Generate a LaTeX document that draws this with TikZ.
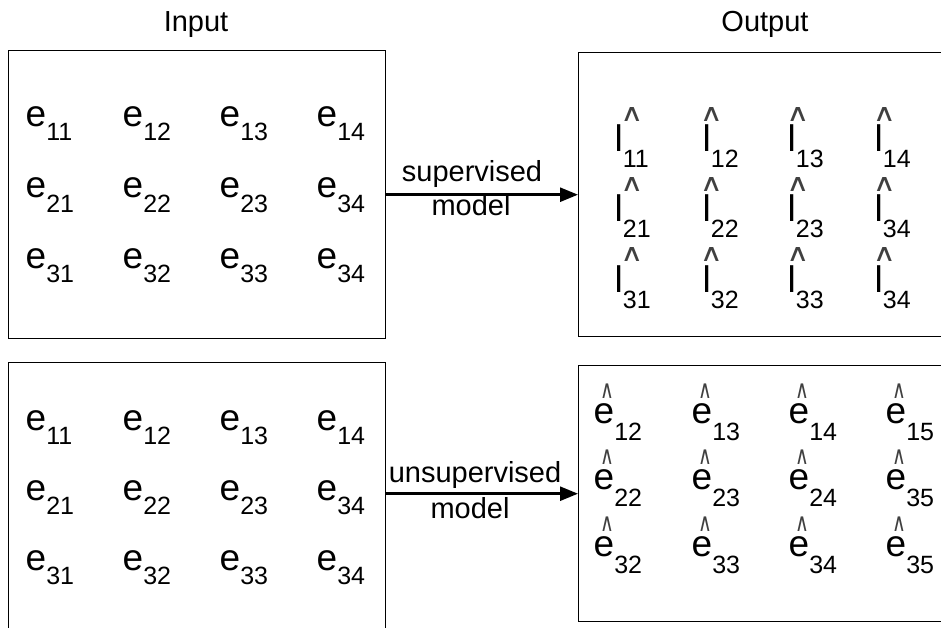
\documentclass[tikz,border=0pt]{standalone}
\usepackage{fontspec}
\setmainfont{Liberation Sans}
\newfontfamily\hatfont{DejaVu Sans}
\usetikzlibrary{arrows.meta}
\tikzset{
  box/.style={draw=black, line width=1.4pt, inner sep=0pt, anchor=north west},
  lbl/.style={font=\fontsize{29}{29}\selectfont, inner sep=0pt, anchor=base},
  cell/.style={inner sep=0pt, anchor=base west, font=\fontsize{37}{37}\selectfont},
  hatmark/.style={inner sep=0pt, text=black!75, font=\hatfont\fontsize{21}{21}\selectfont},
  flow/.style={line width=2.6pt, -{Triangle[length=18pt,width=14pt]}},
}
\newcommand{\sbx}[2]{\raisebox{-#1pt}{\fontsize{25}{25}\selectfont #2}}
\newcommand{\hatsym}{\scalebox{0.9}[1.2]{∧}}
\newcommand{\broadhat}{\scalebox{1.5}[1.15]{∧}}

\begin{document}
\begin{tikzpicture}[x=1pt,y=-1pt]
\useasboundingbox (0,0) rectangle (941,628);
\clip (0,0) rectangle (941,628);

% titles
\node[lbl] (tin) at (196,32) {Input};
\node[lbl] (tout) at (765,32) {Output};

% boxes
\node[box, minimum width=377pt, minimum height=288pt] (inA) at (8,50) {};
\node[box, minimum width=377pt, minimum height=288pt] (inB) at (8,362) {};
\node[box, minimum width=382pt, minimum height=284pt] (outA) at (578,52) {};
\node[box, minimum width=382pt, minimum height=256pt] (outB) at (578,365) {};

% arrows
\draw[flow] (inA.east) -- (outA.west);
\draw[flow] (inB.east |- outB.west) -- (outB.west);
\node[lbl] (sup) at (472,182) {supervised};
\node[lbl] (supm) at (471,216) {model};
\node[lbl] (uns) at (475,482) {unsupervised};
\node[lbl] (unsm) at (470,518) {model};

% input grid (top)
\node[cell] (a11) at (25.5,127) {e\sbx{14}{11}};
\node[cell] (a12) at (122.5,127) {e\sbx{14}{12}};
\node[cell] (a13) at (219.5,127) {e\sbx{14}{13}};
\node[cell] (a14) at (316.5,127) {e\sbx{14}{14}};
\node[cell] (a21) at (25.5,198) {e\sbx{14}{21}};
\node[cell] (a22) at (122.5,198) {e\sbx{14}{22}};
\node[cell] (a23) at (219.5,198) {e\sbx{14}{23}};
\node[cell] (a24) at (316.5,198) {e\sbx{14}{34}};
\node[cell] (a31) at (25.5,268) {e\sbx{14}{31}};
\node[cell] (a32) at (122.5,268) {e\sbx{14}{32}};
\node[cell] (a33) at (219.5,268) {e\sbx{14}{33}};
\node[cell] (a34) at (316.5,268) {e\sbx{14}{34}};

% input grid (bottom)
\node[cell] (b11) at (25.5,430) {e\sbx{14}{11}};
\node[cell] (b12) at (122.5,430) {e\sbx{14}{12}};
\node[cell] (b13) at (219.5,430) {e\sbx{14}{13}};
\node[cell] (b14) at (316.5,430) {e\sbx{14}{14}};
\node[cell] (b21) at (25.5,500) {e\sbx{14}{21}};
\node[cell] (b22) at (122.5,500) {e\sbx{14}{22}};
\node[cell] (b23) at (219.5,500) {e\sbx{14}{23}};
\node[cell] (b24) at (316.5,500) {e\sbx{14}{34}};
\node[cell] (b31) at (25.5,570) {e\sbx{14}{31}};
\node[cell] (b32) at (122.5,570) {e\sbx{14}{32}};
\node[cell] (b33) at (219.5,570) {e\sbx{14}{33}};
\node[cell] (b34) at (316.5,570) {e\sbx{14}{34}};

% output grid (top): l-hat
\node[cell] (c11) at (614.5,152) {l\sbx{16}{11}};
\node[cell] (c12) at (702.5,152) {l\sbx{16}{12}};
\node[cell] (c13) at (787.5,152) {l\sbx{16}{13}};
\node[cell] (c14) at (874.5,152) {l\sbx{16}{14}};
\node[cell] (c21) at (614.5,222) {l\sbx{16}{21}};
\node[cell] (c22) at (702.5,222) {l\sbx{16}{22}};
\node[cell] (c23) at (787.5,222) {l\sbx{16}{23}};
\node[cell] (c24) at (874.5,222) {l\sbx{16}{34}};
\node[cell] (c31) at (614.5,292) {l\sbx{16}{31}};
\node[cell] (c32) at (702.5,292) {l\sbx{16}{32}};
\node[cell] (c33) at (787.5,292) {l\sbx{16}{33}};
\node[cell] (c34) at (874.5,292) {l\sbx{16}{34}};
\foreach \yy [count=\r] in {115,185,255}{
  \node[hatmark] (ch\r1) at (632,\yy) {\broadhat};
  \node[hatmark] (ch\r2) at (711.5,\yy) {\broadhat};
  \node[hatmark] (ch\r3) at (798,\yy) {\broadhat};
  \node[hatmark] (ch\r4) at (884.5,\yy) {\broadhat};
}

% output grid (bottom): e-hat
\node[cell] (d11) at (593.5,423) {e\sbx{17}{12}};
\node[cell] (d12) at (691.5,423) {e\sbx{17}{13}};
\node[cell] (d13) at (788.5,423) {e\sbx{17}{14}};
\node[cell] (d14) at (885.5,423) {e\sbx{17}{15}};
\node[cell] (d21) at (593.5,489) {e\sbx{17}{22}};
\node[cell] (d22) at (691.5,489) {e\sbx{17}{23}};
\node[cell] (d23) at (788.5,489) {e\sbx{17}{24}};
\node[cell] (d24) at (885.5,489) {e\sbx{17}{35}};
\node[cell] (d31) at (593.5,556) {e\sbx{17}{32}};
\node[cell] (d32) at (691.5,556) {e\sbx{17}{33}};
\node[cell] (d33) at (788.5,556) {e\sbx{17}{34}};
\node[cell] (d34) at (885.5,556) {e\sbx{17}{35}};
\foreach \yy [count=\r] in {391,457,524}{
  \node[hatmark] (dh\r1) at (607,\yy) {\hatsym};
  \node[hatmark] (dh\r2) at (705,\yy) {\hatsym};
  \node[hatmark] (dh\r3) at (802,\yy) {\hatsym};
  \node[hatmark] (dh\r4) at (899,\yy) {\hatsym};
}
\end{tikzpicture}
\end{document}
